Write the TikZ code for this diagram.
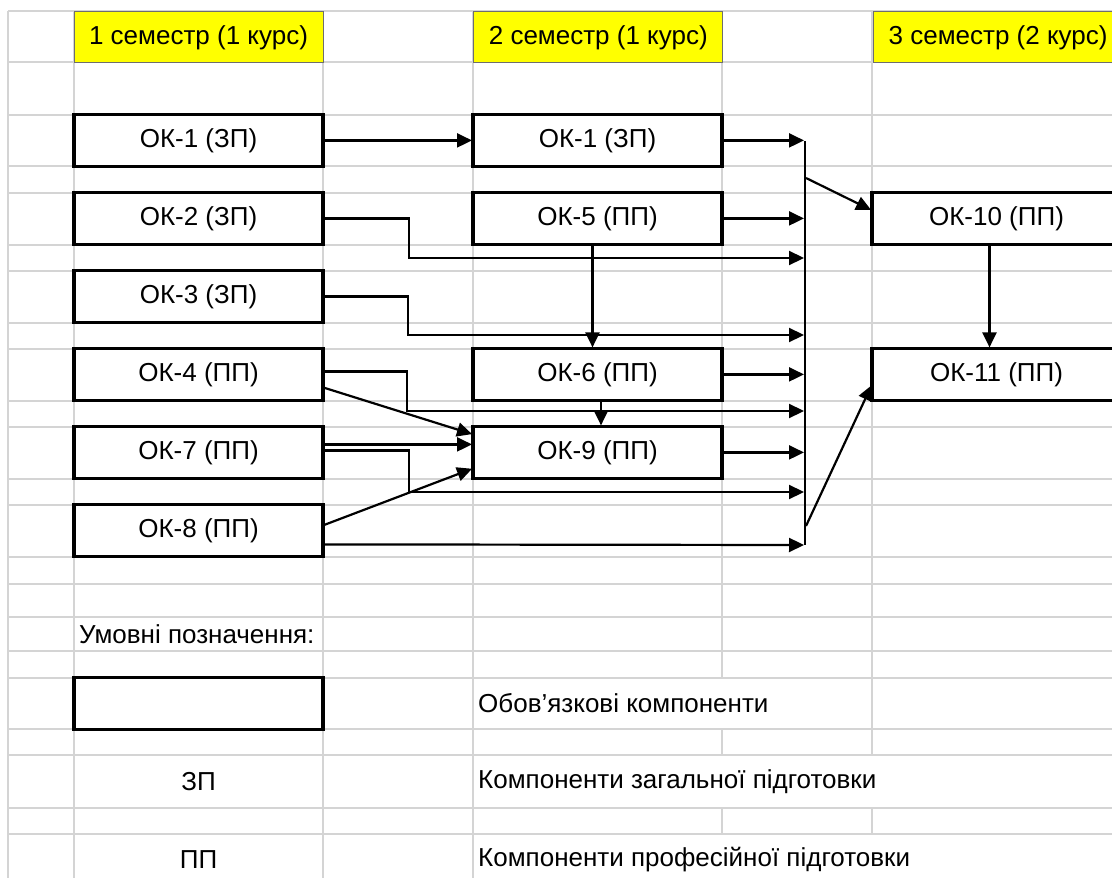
\documentclass[tikz,border=0pt]{standalone}
\usepackage{fontspec}
\setmainfont{Liberation Sans}
\usepackage{tikz}
\usetikzlibrary{positioning, calc, arrows.meta}
\definecolor{xlYellow}{RGB}{255, 255, 0}
\definecolor{xlGrid}{RGB}{212, 212, 212}
\definecolor{xlEdge}{RGB}{110, 110, 110}
\tikzset{
    base/.style={
        font=\fontsize{26}{30}\selectfont,
        align=center
    },
    course/.style={
        base,
        rectangle,
        draw=black,
        line width=3.8pt,
        fill=white,
        minimum width=249pt,
        minimum height=52pt,
        inner sep=0pt,
        outer sep=0pt
    },
    semester/.style={
        base,
        rectangle,
        draw=xlEdge,
        line width=0.8pt,
        fill=xlYellow,
        minimum width=249pt,
        minimum height=51pt,
        inner sep=0pt,
        text depth=2pt
    },
    flow/.style={
        -{Triangle[length=15pt, width=14pt]},
        line width=2.2pt,
        shorten >=1pt,
        color=black
    },
    wire/.style={
        line width=2.2pt,
        color=black
    },
    cell/.style={
        base,
        anchor=west,
        inner sep=0pt
    },
    sheetline/.style={
        color=xlGrid,
        line width=1.8pt
    }
}

\begin{document}
\begin{tikzpicture}[x=1pt, y=-1pt]
  \useasboundingbox (0,0) rectangle (1112,878);
  \clip (0,0) rectangle (1112,878);
  \fill[white] (0,0) rectangle (1112,878);

  % Sheet grid
  \foreach \r in {11,62,115,166,193,245,271,323,349,401,427,479,505,557,584,617,651,678,729,755,808,834}
    \draw[sheetline] (8,\r) -- (1112,\r);
  \foreach \c in {8,74,323,473}
    \draw[sheetline] (\c,11) -- (\c,878);
  \draw[sheetline] (722,11) -- (722,678) (722,729) -- (722,755) (722,808) -- (722,834);
  \draw[sheetline] (872,11) -- (872,755) (872,808) -- (872,834);

  % Semesters
  \node[semester] (h1) at (198.5,36.5) {1 семестр (1 курс)};
  \node[semester, right=150pt of h1] (h2) {2 семестр (1 курс)};
  \node[semester, right=150pt of h2] (h3) {3 семестр (2 курс)};

  % Components
  \node[course, below=52pt of h1] (b1) {ОК-1 (ЗП)};
  \node[course, below=26pt of b1] (b2) {ОК-2 (ЗП)};
  \node[course, below=26pt of b2] (b3) {ОК-3 (ЗП)};
  \node[course, below=26pt of b3] (b4) {ОК-4 (ПП)};
  \node[course, below=26pt of b4] (b7) {ОК-7 (ПП)};
  \node[course, below=26pt of b7] (b8) {ОК-8 (ПП)};
  \node[course, right=150pt of b1] (d1) {ОК-1 (ЗП)};
  \node[course, right=150pt of b2] (d5) {ОК-5 (ПП)};
  \node[course, right=150pt of b4] (d6) {ОК-6 (ПП)};
  \node[course, right=150pt of b7] (d9) {ОК-9 (ПП)};
  \node[course, right=150pt of d5] (f10) {ОК-10 (ПП)};
  \node[course, right=150pt of d6] (f11) {ОК-11 (ПП)};

  % Collector
  \coordinate (bus) at (805,141);
  \coordinate (busEnd) at (805,545);
  \coordinate (c2) at (805,258);
  \coordinate (c3) at (805,335);
  \coordinate (c4) at (805,411);
  \coordinate (c7) at (805,492);
  \coordinate (c8) at (805,545);
  \coordinate (t10) at (806,178);
  \coordinate (t11) at (806,526);
  \draw[wire] (bus) -- (busEnd);

  % Connections
  \draw[flow] (b1) -- (d1);
  \draw[flow] ([yshift=-13pt]b4.east) -- ([yshift=18pt]d9.west);
  \draw[flow] ([yshift=8pt]b7.east) -- ([yshift=8pt]d9.west);
  \draw[flow] ([yshift=5pt]b8.east) -- ([yshift=-16pt]d9.west);
  \draw[flow] ([xshift=-5pt]d5.south) -- ([xshift=-5pt]d6.north);
  \draw[flow] ([xshift=3.5pt]d6.south) -- ([xshift=3.5pt]d9.north);
  \draw[flow] (d1.east) -- (d1.east -| bus);
  \draw[flow] (d5.east) -- (d5.east -| bus);
  \draw[flow] (d6.east) -- (d6.east -| bus);
  \draw[flow] (d9.east) -- (d9.east -| bus);
  \draw[flow] (b2.east) -- ++(86,0) |- (c2);
  \draw[flow] (b3.east) -- ++(85,0) |- (c3);
  \draw[flow] ([yshift=3pt]b4.east) -- ++(84,0) |- (c4);
  \draw[flow] ([yshift=2pt]b7.east) -- ++(86,0) |- (c7);
  \draw[flow] ([yshift=-14pt]b8.east) -- (c8);
  \draw[flow] (t10) -- ([yshift=8pt]f10.west);
  \draw[flow] (t11) -- ([yshift=-10pt]f11.west);
  \draw[flow] ([xshift=-7pt]f10.south) -- ([xshift=-7pt]f11.north);

  % Legend
  \node[cell] (legtitle) at (79,634) {Умовні позначення:};
  \node[course, below=121pt of b8] (legbox) {};
  \node[base] (zp) at (198.5,781.5) {ЗП};
  \node[base] (pp) at (198.5,860) {ПП};
  \node[cell] (legmain) at (478,703.5) {Обов’язкові компоненти};
  \node[cell] (leggen) at (478,781.5) {Компоненти загальної підготовки};
  \node[cell] (legpro) at (478,860) {Компоненти професійної підготовки};
\end{tikzpicture}
\end{document}
